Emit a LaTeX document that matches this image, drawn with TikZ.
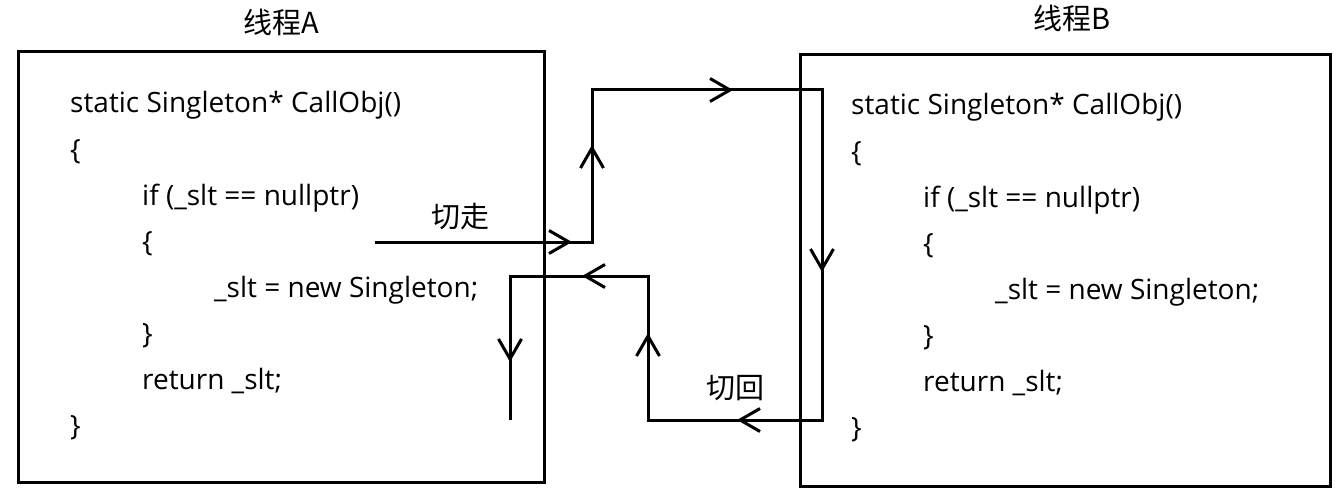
\documentclass[tikz,border=0pt]{standalone}
\usepackage{fontspec}
\setmainfont{Open Sans}
\newfontfamily\cjk{Noto Sans CJK SC}
\usetikzlibrary{arrows.meta, positioning, decorations.markings}

\begin{document}
\begin{tikzpicture}[
  x=1pt, y=-1pt,
  thread_box/.style={rectangle, draw=black, line width=3pt, inner sep=0pt},
  title_text/.style={font=\cjk\fontsize{29}{34}\selectfont, inner sep=0pt},
  code_text/.style={font=\fontsize{28}{32}\selectfont, anchor=base west, inner sep=0pt},
  flow/.style={line width=3pt, line join=miter, postaction={decorate}},
  barb/.tip={Straight Barb[length=20pt, width=23pt, line width=3pt]}
]
\useasboundingbox (0,0) rectangle (1343,492);

% Threads
\node[thread_box, minimum width=526pt, minimum height=430pt] (threadA) at (281,267) {};
\node[thread_box, minimum width=530pt, minimum height=431pt] (threadB) at (1065,270.5) {};
\node[title_text] (titleA) at (281,22) {线程A};
\node[title_text] (titleB) at (1072,18) {线程B};

% Code
\foreach \ind/\txt [count=\i] in {0/static Singleton* CallObj(), 0/\{, 1/if (\_slt == nullptr), 1/\{,
    2/\_slt = new Singleton;, 1/\}, 1/return \_slt;, 0/\}} {
  \node[code_text] (codeA-\i) at (70+72*\ind, 67+46*\i) {\txt};
  \node[code_text] (codeB-\i) at (851+72*\ind, 69+46*\i) {\txt};
}

% Switch points
\coordinate (leave) at (375,242);
\coordinate (up1) at (592,242);
\coordinate (top1) at (592,90);
\coordinate (top2) at (822,90);
\coordinate (bot2) at (822,420);
\coordinate (bot1) at (648,420);
\coordinate (mid1) at (648,276);
\coordinate (back) at (510,276);
\coordinate (resume) at (510,420);

\node[title_text] (lblLeave) at (460,217) {切走};
\node[title_text] (lblBack) at (735,388) {切回};

% Flow
\draw[flow, decoration={markings,
    mark=at position 197pt with {\arrow{barb}},
    mark=at position 314pt with {\arrow{barb}},
    mark=at position 510pt with {\arrow{barb}},
    mark=at position 781pt with {\arrow{barb}},
    mark=at position 1014pt with {\arrow{barb}},
    mark=at position 1190pt with {\arrow{barb}},
    mark=at position 1313pt with {\arrow{barb}},
    mark=at position 1471pt with {\arrow{barb}}}]
  (leave) -- (up1) -- (top1) -- (top2) -- (bot2) -- (bot1) -- (mid1) -- (back) -- (resume);

\end{tikzpicture}
\end{document}
